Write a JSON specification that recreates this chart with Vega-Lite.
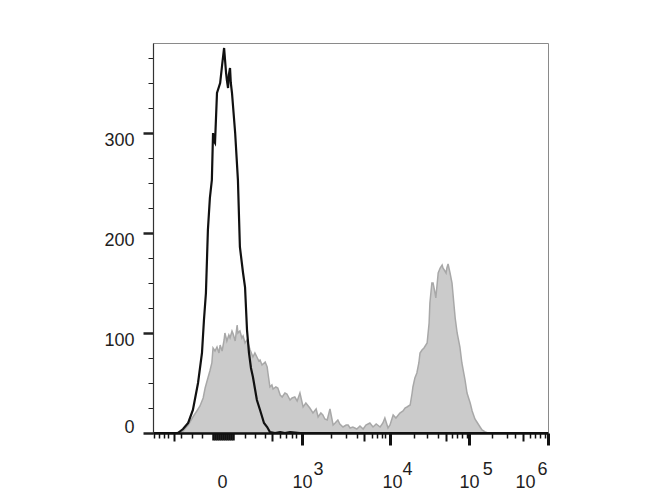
{
  "$schema": "https://vega.github.io/schema/vega-lite/v6.json",
  "autosize": {"type": "none"},
  "padding": {"left": 153, "top": 43, "right": 122, "bottom": 67},
  "width": 395,
  "height": 390,
  "background": "white",
  "config": {
    "view": {"stroke": "#8a8a8a", "strokeWidth": 1},
    "font": "Liberation Sans"
  },
  "data": {
    "values": [
      {"sample": "stained", "channel": 0, "count": 0},
      {"sample": "stained", "channel": 56, "count": 0},
      {"sample": "stained", "channel": 68, "count": 1},
      {"sample": "stained", "channel": 76, "count": 2},
      {"sample": "stained", "channel": 89, "count": 8},
      {"sample": "stained", "channel": 101, "count": 16},
      {"sample": "stained", "channel": 111, "count": 22},
      {"sample": "stained", "channel": 119, "count": 27},
      {"sample": "stained", "channel": 127, "count": 35},
      {"sample": "stained", "channel": 132, "count": 45},
      {"sample": "stained", "channel": 139, "count": 55},
      {"sample": "stained", "channel": 144, "count": 62},
      {"sample": "stained", "channel": 149, "count": 70},
      {"sample": "stained", "channel": 152, "count": 85},
      {"sample": "stained", "channel": 157, "count": 82},
      {"sample": "stained", "channel": 162, "count": 86},
      {"sample": "stained", "channel": 167, "count": 80},
      {"sample": "stained", "channel": 170, "count": 88},
      {"sample": "stained", "channel": 175, "count": 82},
      {"sample": "stained", "channel": 180, "count": 93},
      {"sample": "stained", "channel": 182, "count": 100},
      {"sample": "stained", "channel": 187, "count": 92},
      {"sample": "stained", "channel": 192, "count": 98},
      {"sample": "stained", "channel": 195, "count": 95},
      {"sample": "stained", "channel": 200, "count": 102},
      {"sample": "stained", "channel": 203, "count": 99},
      {"sample": "stained", "channel": 208, "count": 92},
      {"sample": "stained", "channel": 213, "count": 108},
      {"sample": "stained", "channel": 215, "count": 100},
      {"sample": "stained", "channel": 220, "count": 102},
      {"sample": "stained", "channel": 225, "count": 95},
      {"sample": "stained", "channel": 228, "count": 97},
      {"sample": "stained", "channel": 233, "count": 90},
      {"sample": "stained", "channel": 238, "count": 93},
      {"sample": "stained", "channel": 246, "count": 83},
      {"sample": "stained", "channel": 251, "count": 78},
      {"sample": "stained", "channel": 253, "count": 76},
      {"sample": "stained", "channel": 258, "count": 80},
      {"sample": "stained", "channel": 263, "count": 76},
      {"sample": "stained", "channel": 268, "count": 72},
      {"sample": "stained", "channel": 271, "count": 73},
      {"sample": "stained", "channel": 276, "count": 68},
      {"sample": "stained", "channel": 284, "count": 71},
      {"sample": "stained", "channel": 289, "count": 66},
      {"sample": "stained", "channel": 291, "count": 60},
      {"sample": "stained", "channel": 296, "count": 46},
      {"sample": "stained", "channel": 301, "count": 48},
      {"sample": "stained", "channel": 304, "count": 44},
      {"sample": "stained", "channel": 311, "count": 46},
      {"sample": "stained", "channel": 316, "count": 45},
      {"sample": "stained", "channel": 322, "count": 38},
      {"sample": "stained", "channel": 327, "count": 36},
      {"sample": "stained", "channel": 334, "count": 40},
      {"sample": "stained", "channel": 339, "count": 39},
      {"sample": "stained", "channel": 347, "count": 33},
      {"sample": "stained", "channel": 352, "count": 35},
      {"sample": "stained", "channel": 359, "count": 36},
      {"sample": "stained", "channel": 365, "count": 32},
      {"sample": "stained", "channel": 372, "count": 40},
      {"sample": "stained", "channel": 380, "count": 26},
      {"sample": "stained", "channel": 387, "count": 30},
      {"sample": "stained", "channel": 397, "count": 25},
      {"sample": "stained", "channel": 405, "count": 20},
      {"sample": "stained", "channel": 413, "count": 24},
      {"sample": "stained", "channel": 418, "count": 16},
      {"sample": "stained", "channel": 425, "count": 20},
      {"sample": "stained", "channel": 430, "count": 18},
      {"sample": "stained", "channel": 435, "count": 14},
      {"sample": "stained", "channel": 441, "count": 13},
      {"sample": "stained", "channel": 448, "count": 24},
      {"sample": "stained", "channel": 456, "count": 8},
      {"sample": "stained", "channel": 461, "count": 10},
      {"sample": "stained", "channel": 468, "count": 13},
      {"sample": "stained", "channel": 473, "count": 9},
      {"sample": "stained", "channel": 481, "count": 6},
      {"sample": "stained", "channel": 489, "count": 8},
      {"sample": "stained", "channel": 494, "count": 8},
      {"sample": "stained", "channel": 499, "count": 5},
      {"sample": "stained", "channel": 506, "count": 6},
      {"sample": "stained", "channel": 516, "count": 4},
      {"sample": "stained", "channel": 524, "count": 7},
      {"sample": "stained", "channel": 532, "count": 4},
      {"sample": "stained", "channel": 539, "count": 8},
      {"sample": "stained", "channel": 549, "count": 10},
      {"sample": "stained", "channel": 557, "count": 6},
      {"sample": "stained", "channel": 565, "count": 9},
      {"sample": "stained", "channel": 575, "count": 6},
      {"sample": "stained", "channel": 582, "count": 10},
      {"sample": "stained", "channel": 587, "count": 15},
      {"sample": "stained", "channel": 595, "count": 5},
      {"sample": "stained", "channel": 600, "count": 8},
      {"sample": "stained", "channel": 608, "count": 18},
      {"sample": "stained", "channel": 615, "count": 15},
      {"sample": "stained", "channel": 625, "count": 20},
      {"sample": "stained", "channel": 633, "count": 22},
      {"sample": "stained", "channel": 638, "count": 25},
      {"sample": "stained", "channel": 643, "count": 26},
      {"sample": "stained", "channel": 651, "count": 28},
      {"sample": "stained", "channel": 656, "count": 40},
      {"sample": "stained", "channel": 658, "count": 46},
      {"sample": "stained", "channel": 663, "count": 55},
      {"sample": "stained", "channel": 668, "count": 60},
      {"sample": "stained", "channel": 673, "count": 70},
      {"sample": "stained", "channel": 676, "count": 80},
      {"sample": "stained", "channel": 681, "count": 83},
      {"sample": "stained", "channel": 686, "count": 85},
      {"sample": "stained", "channel": 694, "count": 90},
      {"sample": "stained", "channel": 699, "count": 110},
      {"sample": "stained", "channel": 701, "count": 130},
      {"sample": "stained", "channel": 706, "count": 150},
      {"sample": "stained", "channel": 709, "count": 150},
      {"sample": "stained", "channel": 714, "count": 140},
      {"sample": "stained", "channel": 716, "count": 135},
      {"sample": "stained", "channel": 722, "count": 160},
      {"sample": "stained", "channel": 727, "count": 165},
      {"sample": "stained", "channel": 732, "count": 168},
      {"sample": "stained", "channel": 734, "count": 165},
      {"sample": "stained", "channel": 739, "count": 162},
      {"sample": "stained", "channel": 742, "count": 160},
      {"sample": "stained", "channel": 744, "count": 165},
      {"sample": "stained", "channel": 747, "count": 169},
      {"sample": "stained", "channel": 752, "count": 160},
      {"sample": "stained", "channel": 757, "count": 150},
      {"sample": "stained", "channel": 762, "count": 128},
      {"sample": "stained", "channel": 765, "count": 115},
      {"sample": "stained", "channel": 770, "count": 100},
      {"sample": "stained", "channel": 777, "count": 86},
      {"sample": "stained", "channel": 782, "count": 70},
      {"sample": "stained", "channel": 790, "count": 53},
      {"sample": "stained", "channel": 795, "count": 40},
      {"sample": "stained", "channel": 803, "count": 30},
      {"sample": "stained", "channel": 808, "count": 22},
      {"sample": "stained", "channel": 815, "count": 14},
      {"sample": "stained", "channel": 820, "count": 11},
      {"sample": "stained", "channel": 828, "count": 6},
      {"sample": "stained", "channel": 833, "count": 3},
      {"sample": "stained", "channel": 841, "count": 1},
      {"sample": "stained", "channel": 848, "count": 0},
      {"sample": "stained", "channel": 1000, "count": 0},
      {"sample": "control", "channel": 0, "count": 0},
      {"sample": "control", "channel": 63, "count": 0},
      {"sample": "control", "channel": 76, "count": 4},
      {"sample": "control", "channel": 89, "count": 10},
      {"sample": "control", "channel": 101, "count": 23},
      {"sample": "control", "channel": 114, "count": 50},
      {"sample": "control", "channel": 124, "count": 80},
      {"sample": "control", "channel": 129, "count": 113},
      {"sample": "control", "channel": 134, "count": 140},
      {"sample": "control", "channel": 139, "count": 203},
      {"sample": "control", "channel": 144, "count": 235},
      {"sample": "control", "channel": 149, "count": 253},
      {"sample": "control", "channel": 152, "count": 300},
      {"sample": "control", "channel": 154, "count": 292},
      {"sample": "control", "channel": 157, "count": 290},
      {"sample": "control", "channel": 162, "count": 340},
      {"sample": "control", "channel": 170, "count": 350},
      {"sample": "control", "channel": 175, "count": 368},
      {"sample": "control", "channel": 180, "count": 385},
      {"sample": "control", "channel": 185, "count": 360},
      {"sample": "control", "channel": 187, "count": 353},
      {"sample": "control", "channel": 190, "count": 345},
      {"sample": "control", "channel": 192, "count": 358},
      {"sample": "control", "channel": 195, "count": 365},
      {"sample": "control", "channel": 197, "count": 350},
      {"sample": "control", "channel": 200, "count": 340},
      {"sample": "control", "channel": 208, "count": 300},
      {"sample": "control", "channel": 215, "count": 253},
      {"sample": "control", "channel": 220, "count": 186},
      {"sample": "control", "channel": 228, "count": 160},
      {"sample": "control", "channel": 233, "count": 146},
      {"sample": "control", "channel": 238, "count": 103},
      {"sample": "control", "channel": 243, "count": 80},
      {"sample": "control", "channel": 248, "count": 65},
      {"sample": "control", "channel": 253, "count": 56},
      {"sample": "control", "channel": 263, "count": 33},
      {"sample": "control", "channel": 271, "count": 23},
      {"sample": "control", "channel": 281, "count": 10},
      {"sample": "control", "channel": 289, "count": 6},
      {"sample": "control", "channel": 296, "count": 1},
      {"sample": "control", "channel": 309, "count": 0},
      {"sample": "control", "channel": 322, "count": 1},
      {"sample": "control", "channel": 334, "count": 0},
      {"sample": "control", "channel": 347, "count": 1},
      {"sample": "control", "channel": 372, "count": 0},
      {"sample": "control", "channel": 1000, "count": 0}
    ]
  },
  "encoding": {
    "x": {
      "field": "channel",
      "type": "quantitative",
      "scale": {"domain": [0, 1000], "nice": false, "zero": false},
      "axis": {
        "title": null,
        "grid": false,
        "zindex": 1,
        "domainColor": "#111",
        "domainWidth": 2.5,
        "tickColor": "#111",
        "values": [3, 15, 28, 38, 53, 71, 99, 124, 152, 157, 162, 167, 172, 177, 182, 187, 192, 197, 202, 233, 258, 284, 301, 322, 337, 352, 362, 377, 418, 451, 489, 516, 534, 554, 567, 580, 587, 600, 643, 661, 694, 722, 742, 757, 770, 782, 795, 800, 846, 858, 896, 916, 937, 954, 967, 980, 985, 992, 1000],
        "tickSize": {
          "condition": [
            {"test": "indexof([377,600,800,1000], datum.value) >= 0", "value": 12},
            {"test": "indexof([53,301,534,742,937], datum.value) >= 0", "value": 8},
            {"test": "datum.value >= 150 && datum.value <= 205", "value": 7},
            {"test": "indexof([418,643,846,985], datum.value) >= 0", "value": 0}
          ],
          "value": 5
        },
        "tickWidth": {
          "condition": [
            {"test": "indexof([377,600,800,1000], datum.value) >= 0", "value": 3},
            {"test": "indexof([53,301,534,742,937], datum.value) >= 0", "value": 2},
            {"test": "datum.value >= 150 && datum.value <= 205", "value": 2.5}
          ],
          "value": 1.5
        },
        "tickOpacity": {
          "condition": {"test": "indexof([418,643,846,985], datum.value) >= 0", "value": 0},
          "value": 1
        },
        "labelPadding": {
          "condition": [
            {"test": "indexof([418,643,846,985], datum.value) >= 0", "value": 27},
            {"test": "datum.value >= 150 && datum.value <= 205", "value": 33}
          ],
          "value": 28
        },
        "labelOffset": {
          "condition": [
            {"test": "datum.value === 600", "value": 2},
            {"test": "datum.value === 1000", "value": -23},
            {"test": "datum.value === 177", "value": -1}
          ],
          "value": 0
        },
        "labelExpr": "datum.value === 177 ? '0' : indexof([377,600,800,1000], datum.value) >= 0 ? '10' : datum.value === 418 ? '3' : datum.value === 643 ? '4' : datum.value === 846 ? '5' : datum.value === 985 ? '6' : ''",
        "labelFont": "Liberation Sans",
        "labelFontSize": 18,
        "labelColor": "#1e1e1e",
        "labelOverlap": false,
        "labelFlush": false,
        "labelBound": false
      }
    },
    "y": {
      "field": "count",
      "type": "quantitative",
      "scale": {"domain": [0, 390], "nice": false},
      "axis": {
        "title": null,
        "grid": false,
        "zindex": 1,
        "domainColor": "#333",
        "domainWidth": 1.2,
        "tickColor": "#222",
        "values": [0, 25, 50, 75, 100, 125, 150, 175, 200, 225, 250, 275, 300, 325, 350, 375],
        "tickSize": {"condition": {"test": "datum.value % 100 === 0", "value": 10}, "value": 5},
        "tickWidth": {"condition": {"test": "datum.value % 100 === 0", "value": 2.5}, "value": 1},
        "labelExpr": "datum.value % 100 === 0 ? datum.label : ''",
        "labelPadding": 9,
        "labelOffset": {"condition": {"test": "datum.value === 0", "value": -6}, "value": 7},
        "labelFont": "Liberation Sans",
        "labelFontSize": 18,
        "labelColor": "#1e1e1e",
        "labelOverlap": false,
        "labelFlush": false,
        "labelBound": false
      }
    }
  },
  "layer": [
    {
      "transform": [{"filter": "datum.sample === 'stained'"}],
      "mark": {"type": "area", "color": "#cbcbcb", "stroke": "#a8a8a8", "strokeWidth": 1.5, "opacity": 1}
    },
    {
      "transform": [{"filter": "datum.sample === 'control'"}],
      "mark": {"type": "line", "color": "#111", "strokeWidth": 2.2}
    }
  ]
}
